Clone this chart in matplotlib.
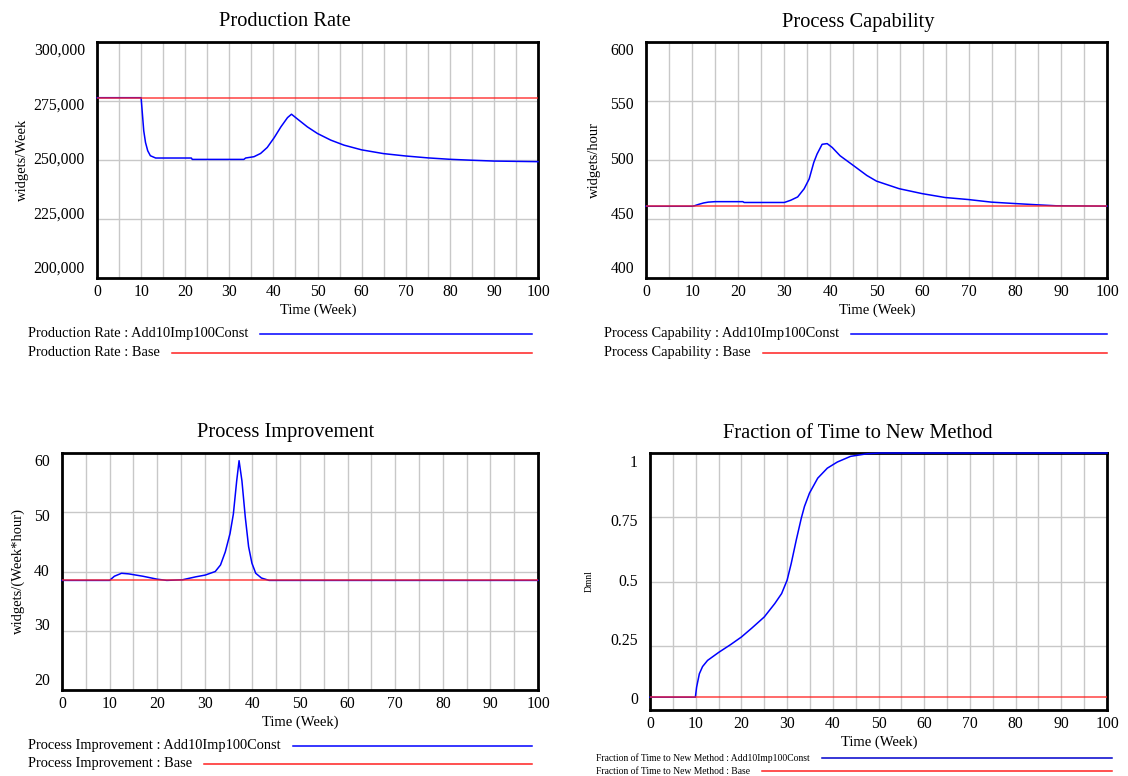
"""Vensim-style 2x2 run comparison: Add10Imp100Const vs Base."""
import matplotlib
matplotlib.use("Agg")
import matplotlib.pyplot as plt
import matplotlib.transforms as mtransforms
from matplotlib.lines import Line2D

plt.rcParams["font.family"] = ["Liberation Serif", "DejaVu Serif"]

W, H = 1128, 776
RUN = "Add10Imp100Const"
BASE = "Base"
X_TICKS = [0, 10, 20, 30, 40, 50, 60, 70, 80, 90, 100]

# --- Production Rate (widgets/Week) ---
prod_t = [0, 10, 10.3, 10.6, 11.0, 11.5, 12.1, 13.3, 21.4, 21.6, 33.3, 33.7, 35.6,
          37.1, 38.6, 40.2, 41.7, 43.2, 44.1, 45.5, 47.7, 50, 53, 56, 60, 65, 70,
          75, 80, 85, 90, 100]
prod_run = [276400, 276400, 269400, 262350, 257420, 253920, 251810, 250840, 250840,
            250250, 250250, 250840, 251400, 252780, 255310, 259530, 264040, 267960,
            269400, 267300, 264040, 261220, 258430, 256300, 254300, 252700, 251700,
            250900, 250300, 249900, 249550, 249300]
prod_base = [276400, 276400]
prod_yticks = [200000, 225000, 250000, 275000, 300000]
prod_ylabels = ["200,000", "225,000", "250,000", "275,000", "300,000"]

# --- Process Capability (widgets/hour) ---
cap_t = [0, 10, 10.5, 11.5, 12.5, 13.5, 15, 21, 21.3, 30, 31.4, 32.9, 34.3, 35.4,
         36.4, 37.1, 38.2, 39.3, 40.4, 42.1, 45, 47.9, 50, 54.9, 59.9, 64.9, 69.9,
         74.9, 80, 85, 89, 100]
cap_run = [460.8, 460.8, 461.2, 462.5, 463.6, 464.3, 464.7, 464.7, 464.0, 464.0,
           465.9, 468.7, 475.6, 484, 498, 505, 513.3, 513.9, 510.6, 503.6, 495.3,
           486.9, 482.1, 475.7, 471.5, 468.2, 466.5, 464.3, 463.1, 462.0, 461.2,
           460.9]
cap_base = [460.8, 460.8]
cap_yticks = [400, 450, 500, 550, 600]
cap_ylabels = ["400", "450", "500", "550", "600"]

# --- Process Improvement (widgets/(Week*hour)) ---
imp_t = [0, 10, 11, 12.5, 14, 17, 20, 22, 25.3, 28.1, 30.1, 32.2, 33.3, 34.3, 35.3,
         36.0, 36.7, 37.2, 37.8, 38.5, 39.2, 39.9, 40.7, 41.9, 43.5, 100]
imp_run = [38.5, 38.5, 39.2, 39.7, 39.6, 39.2, 38.7, 38.5, 38.6, 39.1, 39.4, 40.0,
           41.1, 43.3, 46.4, 49.7, 55.3, 58.7, 55.3, 49.2, 44.2, 41.4, 39.7, 38.9,
           38.5, 38.5]
imp_base = [38.5, 38.5]
imp_yticks = [20, 30, 40, 50, 60]
imp_ylabels = ["20", "30", "40", "50", "60"]

# --- Fraction of Time to New Method (Dmnl) ---
frac_t = [0, 9.93, 10.2, 10.8, 11.5, 12.6, 15.1, 17.6, 20.0, 22.3, 25.0, 27.3, 28.8,
          30.0, 30.9, 32.0, 33.1, 33.8, 34.9, 36.7, 38.8, 41.0, 43.9, 47.5, 50.4, 100]
frac_run = [0.05, 0.05, 0.089, 0.141, 0.169, 0.193, 0.225, 0.254, 0.284, 0.319,
            0.362, 0.414, 0.453, 0.505, 0.570, 0.661, 0.746, 0.792, 0.844, 0.902,
            0.941, 0.965, 0.987, 0.997, 1.0, 1.0]
frac_base = [0.05, 0.05]
frac_yticks = [0, 0.25, 0.5, 0.75, 1]
frac_ylabels = ["0", "0.25", "0.5", "0.75", "1"]

BLUE = "#0000ff"
RED = "#ff2020"
GRID = "#c8c8c8"
SQUISH = 0.924  # Vensim pulls the y labels in toward the middle


def fx(px):
    return px / W


def fy(py):
    return 1 - py / H


def draw_panel(fig, rect, t, run, base, yticks, ylabels):
    l, t_, r, b = rect
    ax = fig.add_axes([fx(l), fy(b), (r - l) / W, (b - t_) / H])
    ax.plot(t, run, color=BLUE, lw=1.1, zorder=6, clip_on=False)
    ax.plot([0, 100], base, color=RED, lw=1.1, alpha=0.85, zorder=7)
    ax.set_xlim(0, 100)
    ax.set_ylim(yticks[0], yticks[-1])
    ax.set_xticks(X_TICKS)
    ax.set_yticks(yticks)
    ax.set_yticklabels([])
    ax.tick_params(length=0, labelsize=11.3)
    ax.tick_params(axis="x", pad=4)
    mid = (yticks[0] + yticks[-1]) / 2
    trans = mtransforms.blended_transform_factory(ax.transAxes, ax.transData)
    off = mtransforms.ScaledTranslation(-12 / 100, 0, fig.dpi_scale_trans)
    for y, lab in zip(yticks, ylabels):
        ax.text(0, mid + (y - mid) * SQUISH, lab, transform=trans + off,
                ha="right", va="center", fontsize=11.3)
    for x in range(5, 100, 5):
        ax.axvline(x, color=GRID, lw=1, zorder=1)
    for y in yticks[1:-1]:
        ax.axhline(y, color=GRID, lw=1, zorder=1)
    for s in ax.spines.values():
        s.set_linewidth(2)
        s.set_zorder(5)
    return ax


def legend_rows(fig, renderer, x0, x1, rows, size):
    for y, label, color in rows:
        txt = fig.text(fx(x0), fy(y), label, fontsize=size, ha="left", va="center")
        ext = txt.get_window_extent(renderer)
        fig.add_artist(Line2D([fx(ext.x1 + 12), fx(x1)], [fy(y), fy(y)],
                              color=color, lw=1.1, transform=fig.transFigure))


fig = plt.figure(figsize=(W / 100, H / 100), dpi=100)
renderer = fig.canvas.get_renderer()

panels = [
    ((97, 42, 538, 278), prod_t, prod_run, prod_base, prod_yticks, prod_ylabels,
     "Production Rate", "widgets/Week", 22, 285, 318, 310),
    ((646, 42, 1107, 278), cap_t, cap_run, cap_base, cap_yticks, cap_ylabels,
     "Process Capability", "widgets/hour", 594, 858, 877, 310),
    ((62, 453, 538, 690), imp_t, imp_run, imp_base, imp_yticks, imp_ylabels,
     "Process Improvement", "widgets/(Week*hour)", 18, 286, 300, 722),
    ((650, 453, 1107, 710), frac_t, frac_run, frac_base, frac_yticks, frac_ylabels,
     "Fraction of Time to New Method", "Dmnl", 589, 858, 879, 742),
]

for rect, t, run, base, yt, yl, title, ylab, ylab_x, title_x, xlab_x, xlab_y in panels:
    draw_panel(fig, rect, t, run, base, yt, yl)
    top = rect[1]
    fig.text(fx(title_x), fy(top - 20), title, fontsize=14.7, ha="center", va="center")
    fig.text(fx(xlab_x), fy(xlab_y), "Time (Week)", fontsize=10.5, ha="center", va="center")
    ysize = 6.9 if ylab == "Dmnl" else 10.5
    fig.text(fx(ylab_x), fy((rect[1] + rect[3]) / 2), ylab, fontsize=ysize,
             rotation=90, ha="center", va="center")

legend_rows(fig, renderer, 28, 532, [
    (334, f"Production Rate : {RUN}", BLUE),
    (353, f"Production Rate : {BASE}", RED)], 10.4)
legend_rows(fig, renderer, 604, 1107, [
    (334, f"Process Capability : {RUN}", BLUE),
    (353, f"Process Capability : {BASE}", RED)], 10.4)
legend_rows(fig, renderer, 28, 532, [
    (746, f"Process Improvement : {RUN}", BLUE),
    (764, f"Process Improvement : {BASE}", RED)], 10.4)
legend_rows(fig, renderer, 596, 1112, [
    (758, f"Fraction of Time to New Method : {RUN}", "#0000cc"),
    (771, f"Fraction of Time to New Method : {BASE}", RED)], 6.9)

fig.savefig("out.png", dpi=100)
